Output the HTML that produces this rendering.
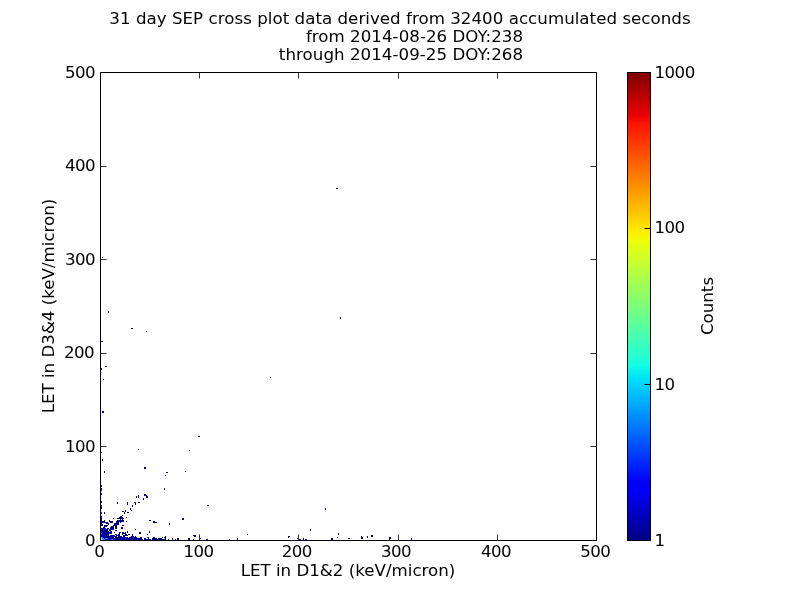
<!DOCTYPE html>
<html><head><meta charset="utf-8"><title>SEP cross plot</title>
<style>html,body{margin:0;padding:0;background:#fff;}svg{display:block;position:absolute;left:0;top:0;}.t{will-change:transform;}</style></head>
<body><svg width="800" height="600" viewBox="0 0 800 600"><defs><linearGradient id="jet" x1="0" y1="0" x2="0" y2="1"><stop offset="0" stop-color="rgb(128,0,0)"/><stop offset="0.09" stop-color="rgb(232,0,0)"/><stop offset="0.11" stop-color="rgb(255,19,0)"/><stop offset="0.34" stop-color="rgb(255,236,0)"/><stop offset="0.35" stop-color="rgb(247,246,0)"/><stop offset="0.36" stop-color="rgb(238,255,8)"/><stop offset="0.625" stop-color="rgb(21,255,226)"/><stop offset="0.65" stop-color="rgb(0,230,247)"/><stop offset="0.66" stop-color="rgb(0,219,255)"/><stop offset="0.875" stop-color="rgb(0,0,255)"/><stop offset="0.89" stop-color="rgb(0,0,255)"/><stop offset="1" stop-color="rgb(0,0,128)"/></linearGradient></defs><rect x="0" y="0" width="800" height="600" fill="#fff"/><path fill="#000080" d="M104 526h3v1h-3zM111 526h3v1h-3zM115 526h2v1h-2zM103 527h2v1h-2zM110 527h4v1h-4zM115 527h2v1h-2zM101 528h1v1h-1zM103 528h1v1h-1zM107 528h2v1h-2zM110 528h1v1h-1zM112 528h2v1h-2zM115 528h2v1h-2zM102 529h2v1h-2zM106 529h2v1h-2zM109 529h5v1h-5zM101 530h2v1h-2zM104 530h4v1h-4zM109 530h2v1h-2zM115 530h2v1h-2zM102 531h1v1h-1zM105 531h4v1h-4zM110 531h2v1h-2zM101 532h1v1h-1zM103 532h5v1h-5zM109 532h1v1h-1zM114 532h1v1h-1zM119 532h1v1h-1zM102 533h1v1h-1zM104 533h8v1h-8zM119 533h1v1h-1zM101 534h1v1h-1zM104 534h5v1h-5zM115 534h2v1h-2zM118 534h2v1h-2zM101 535h1v1h-1zM103 535h4v1h-4zM108 535h1v1h-1zM110 535h3v1h-3zM116 535h4v1h-4zM101 536h1v1h-1zM103 536h1v1h-1zM105 536h7v1h-7zM113 536h4v1h-4zM118 536h2v1h-2zM103 537h1v1h-1zM105 537h5v1h-5zM111 537h3v1h-3zM115 537h5v1h-5zM104 538h1v1h-1zM108 538h1v1h-1zM112 538h3v1h-3zM116 538h4v1h-4zM105 539h1v1h-1zM109 539h2v1h-2zM113 539h2v1h-2zM116 539h4v1h-4zM121 527h2v1h-2zM121 528h2v1h-2zM135 529h1v1h-1zM127 531h1v1h-1zM120 532h1v1h-1zM122 532h2v1h-2zM125 532h1v1h-1zM127 532h1v1h-1zM139 532h1v1h-1zM122 533h4v1h-4zM139 533h1v1h-1zM122 534h1v1h-1zM125 534h2v1h-2zM128 534h2v1h-2zM132 534h1v1h-1zM123 535h5v1h-5zM132 535h1v1h-1zM120 536h2v1h-2zM123 536h2v1h-2zM131 536h3v1h-3zM135 536h1v1h-1zM120 537h5v1h-5zM126 537h2v1h-2zM129 537h8v1h-8zM122 538h3v1h-3zM126 538h8v1h-8zM135 538h2v1h-2zM138 538h2v1h-2zM121 539h19v1h-19zM149 531h1v1h-1zM140 532h1v1h-1zM149 532h1v1h-1zM140 533h1v1h-1zM147 534h1v1h-1zM140 537h2v1h-2zM147 537h2v1h-2zM153 537h2v1h-2zM140 538h2v1h-2zM144 538h2v1h-2zM148 538h1v1h-1zM153 538h4v1h-4zM158 538h2v1h-2zM140 539h3v1h-3zM145 539h6v1h-6zM152 539h8v1h-8zM165 536h1v1h-1zM162 537h1v1h-1zM164 537h2v1h-2zM160 538h2v1h-2zM165 538h1v1h-1zM172 538h1v1h-1zM177 538h2v1h-2zM160 539h6v1h-6zM168 539h1v1h-1zM172 539h1v1h-1zM175 539h1v1h-1zM177 539h2v1h-2zM101 512h1v1h-1zM104 512h1v1h-1zM101 513h1v1h-1zM104 513h1v1h-1zM101 516h1v1h-1zM101 517h1v1h-1zM119 517h1v1h-1zM101 518h1v1h-1zM113 518h1v1h-1zM117 518h3v1h-3zM101 519h1v1h-1zM101 520h1v1h-1zM104 520h1v1h-1zM109 520h1v1h-1zM117 520h3v1h-3zM101 521h4v1h-4zM109 521h4v1h-4zM116 521h4v1h-4zM101 522h7v1h-7zM110 522h3v1h-3zM116 522h3v1h-3zM101 523h1v1h-1zM106 523h3v1h-3zM114 523h5v1h-5zM101 524h2v1h-2zM108 524h1v1h-1zM114 524h2v1h-2zM117 524h2v1h-2zM101 525h2v1h-2zM104 525h4v1h-4zM113 525h4v1h-4zM122 511h2v1h-2zM125 511h1v1h-1zM124 512h1v1h-1zM127 512h2v1h-2zM124 513h1v1h-1zM122 515h1v1h-1zM120 516h2v1h-2zM120 517h3v1h-3zM126 517h1v1h-1zM120 518h3v1h-3zM120 519h1v1h-1zM122 519h1v1h-1zM120 520h4v1h-4zM120 521h4v1h-4zM126 521h1v1h-1zM120 522h1v1h-1zM122 525h2v1h-2zM336 188h2v1h-2zM102 257h1v1h-1zM108 311h1v2h-1zM131 328h2v1h-2zM146 331h1v1h-1zM101 341h2v1h-2zM340 317h1v2h-1zM105 366h2v1h-2zM101 368h1v2h-1zM103 379h1v1h-1zM270 377h1v1h-1zM102 411h2v2h-2zM198 436h2v1h-2zM138 449h1v1h-1zM101 452h1v1h-1zM102 459h1v2h-1zM144 467h2v2h-2zM104 471h1v2h-1zM101 485h1v2h-1zM101 488h1v3h-1zM189 450h1v1h-1zM185 471h1v1h-1zM166 472h2v1h-2zM165 475h1v1h-1zM164 488h1v2h-1zM101 493h1v2h-1zM101 501h1v2h-1zM101 505h1v4h-1zM117 502h1v2h-1zM127 502h1v3h-1zM134 502h2v1h-2zM135 503h1v2h-1zM138 502h2v1h-2zM136 496h1v2h-1zM138 495h1v3h-1zM132 505h1v2h-1zM130 508h1v2h-1zM131 510h1v1h-1zM125 510h1v1h-1zM144 494h2v2h-2zM146 495h1v1h-1zM146 496h2v2h-2zM143 498h1v2h-1zM149 520h2v1h-2zM153 521h2v2h-2zM155 522h2v1h-2zM169 523h1v2h-1zM182 518h2v2h-2zM207 505h2v1h-2zM188 538h2v2h-2zM193 535h3v1h-3zM194 536h2v1h-2zM193 539h1v1h-1zM199 538h2v1h-2zM206 539h2v1h-2zM229 539h1v1h-1zM237 538h1v2h-1zM247 534h1v1h-1zM288 536h2v1h-2zM288 537h1v1h-1zM297 538h2v1h-2zM299 539h1v1h-1zM325 508h1v2h-1zM310 529h1v2h-1zM300 539h1v1h-1zM303 538h1v2h-1zM305 539h2v1h-2zM331 538h2v2h-2zM337 537h1v1h-1zM338 533h1v2h-1zM348 538h2v1h-2zM361 536h1v1h-1zM361 537h2v2h-2zM367 536h1v2h-1zM371 535h2v2h-2zM389 537h2v2h-2zM389 539h1v1h-1zM411 538h1v2h-1z"/><path fill="#0008f0" d="M102 528h1v1h-1zM104 528h2v1h-2zM111 528h1v1h-1zM101 529h1v1h-1zM104 529h2v1h-2zM103 530h1v1h-1zM101 531h1v1h-1zM103 531h2v1h-2zM102 532h1v1h-1zM108 532h1v1h-1zM110 532h2v1h-2zM103 533h1v1h-1zM102 534h2v1h-2zM102 535h1v1h-1zM107 535h1v1h-1zM113 535h2v1h-2zM102 536h1v1h-1zM104 536h1v1h-1zM112 536h1v1h-1zM104 537h1v1h-1zM110 537h1v1h-1zM109 538h3v1h-3zM115 538h1v1h-1zM106 539h3v1h-3zM115 539h1v1h-1zM125 537h1v1h-1zM120 538h2v1h-2zM125 538h1v1h-1zM134 538h1v1h-1zM137 538h1v1h-1zM120 539h1v1h-1zM152 538h1v1h-1zM144 539h1v1h-1zM116 524h1v1h-1zM123 518h1v1h-1z"/><path fill="#0090ff" d="M101 533h1v1h-1zM102 537h1v1h-1zM102 538h2v1h-2zM105 538h3v1h-3zM103 539h2v1h-2zM111 539h2v1h-2z"/><path fill="#00d8e8" d="M101 537h1v1h-1zM102 539h1v1h-1z"/><path fill="#c8f020" d="M101 538h1v1h-1zM101 539h1v1h-1z"/><path d="M100.5 540.5v-6.06M100.5 72.5v6.06M100.5 540.5h6.06M596.5 540.5h-6.06M199.5 540.5v-6.06M199.5 72.5v6.06M100.5 446.5h6.06M596.5 446.5h-6.06M298.5 540.5v-6.06M298.5 72.5v6.06M100.5 353.5h6.06M596.5 353.5h-6.06M398.5 540.5v-6.06M398.5 72.5v6.06M100.5 259.5h6.06M596.5 259.5h-6.06M497.5 540.5v-6.06M497.5 72.5v6.06M100.5 166.5h6.06M596.5 166.5h-6.06M596.5 540.5v-6.06M596.5 72.5v6.06M100.5 72.5h6.06M596.5 72.5h-6.06" stroke="#333" stroke-width="1" fill="none"/><rect x="100.5" y="72.5" width="496" height="468" fill="none" stroke="#000" stroke-width="1"/><rect x="627.5" y="72.5" width="23" height="468" fill="url(#jet)" stroke="#000" stroke-width="1"/><path d="M650.5 540.5h-6.06M650.5 384.5h-6.06M650.5 228.5h-6.06M650.5 72.5h-6.06" stroke="#000" stroke-width="1" fill="none"/></svg><svg class="t" width="800" height="600" viewBox="0 0 800 600" font-family="DejaVu Sans, Liberation Sans, sans-serif" fill="#000"><text x="400" y="24" text-anchor="middle" font-size="16.67" letter-spacing="0.03">31 day SEP cross plot data derived from 32400 accumulated seconds</text><text x="414.5" y="41.8" text-anchor="middle" font-size="16.67" letter-spacing="0.03">from 2014-08-26 DOY:238</text><text x="401" y="59.6" text-anchor="middle" font-size="16.67" letter-spacing="0.04">through 2014-09-25 DOY:268</text><text x="99.3" y="557" text-anchor="middle" font-size="16.67" letter-spacing="-0.6">0</text><text x="95" y="546" text-anchor="end" font-size="16.67" letter-spacing="-0.6">0</text><text x="198.5" y="557" text-anchor="middle" font-size="16.67" letter-spacing="-0.6">100</text><text x="95" y="452" text-anchor="end" font-size="16.67" letter-spacing="-0.6">100</text><text x="296.7" y="557" text-anchor="middle" font-size="16.67" letter-spacing="-0.6">200</text><text x="94" y="358" text-anchor="end" font-size="16.67" letter-spacing="-0.6">200</text><text x="395.9" y="557" text-anchor="middle" font-size="16.67" letter-spacing="-0.6">300</text><text x="95" y="265" text-anchor="end" font-size="16.67" letter-spacing="-0.6">300</text><text x="496.1" y="557" text-anchor="middle" font-size="16.67" letter-spacing="-0.6">400</text><text x="95" y="171" text-anchor="end" font-size="16.67" letter-spacing="-0.6">400</text><text x="595.3" y="557" text-anchor="middle" font-size="16.67" letter-spacing="-0.6">500</text><text x="95" y="78" text-anchor="end" font-size="16.67" letter-spacing="-0.6">500</text><text x="348.0" y="576" text-anchor="middle" font-size="16.67">LET in D1&amp;2 (keV/micron)</text><text transform="translate(54 306.0) rotate(-90)" text-anchor="middle" font-size="16.67">LET in D3&amp;4 (keV/micron)</text><text x="654.4" y="546.0" font-size="16.67" letter-spacing="-0.5">1</text><text x="654.4" y="390.0" font-size="16.67" letter-spacing="-0.5">10</text><text x="654.4" y="233.0" font-size="16.67" letter-spacing="-0.5">100</text><text x="654.4" y="78.0" font-size="16.67" letter-spacing="-0.5">1000</text><text transform="translate(713 306.0) rotate(-90)" text-anchor="middle" font-size="16.67">Counts</text></svg></body></html>
